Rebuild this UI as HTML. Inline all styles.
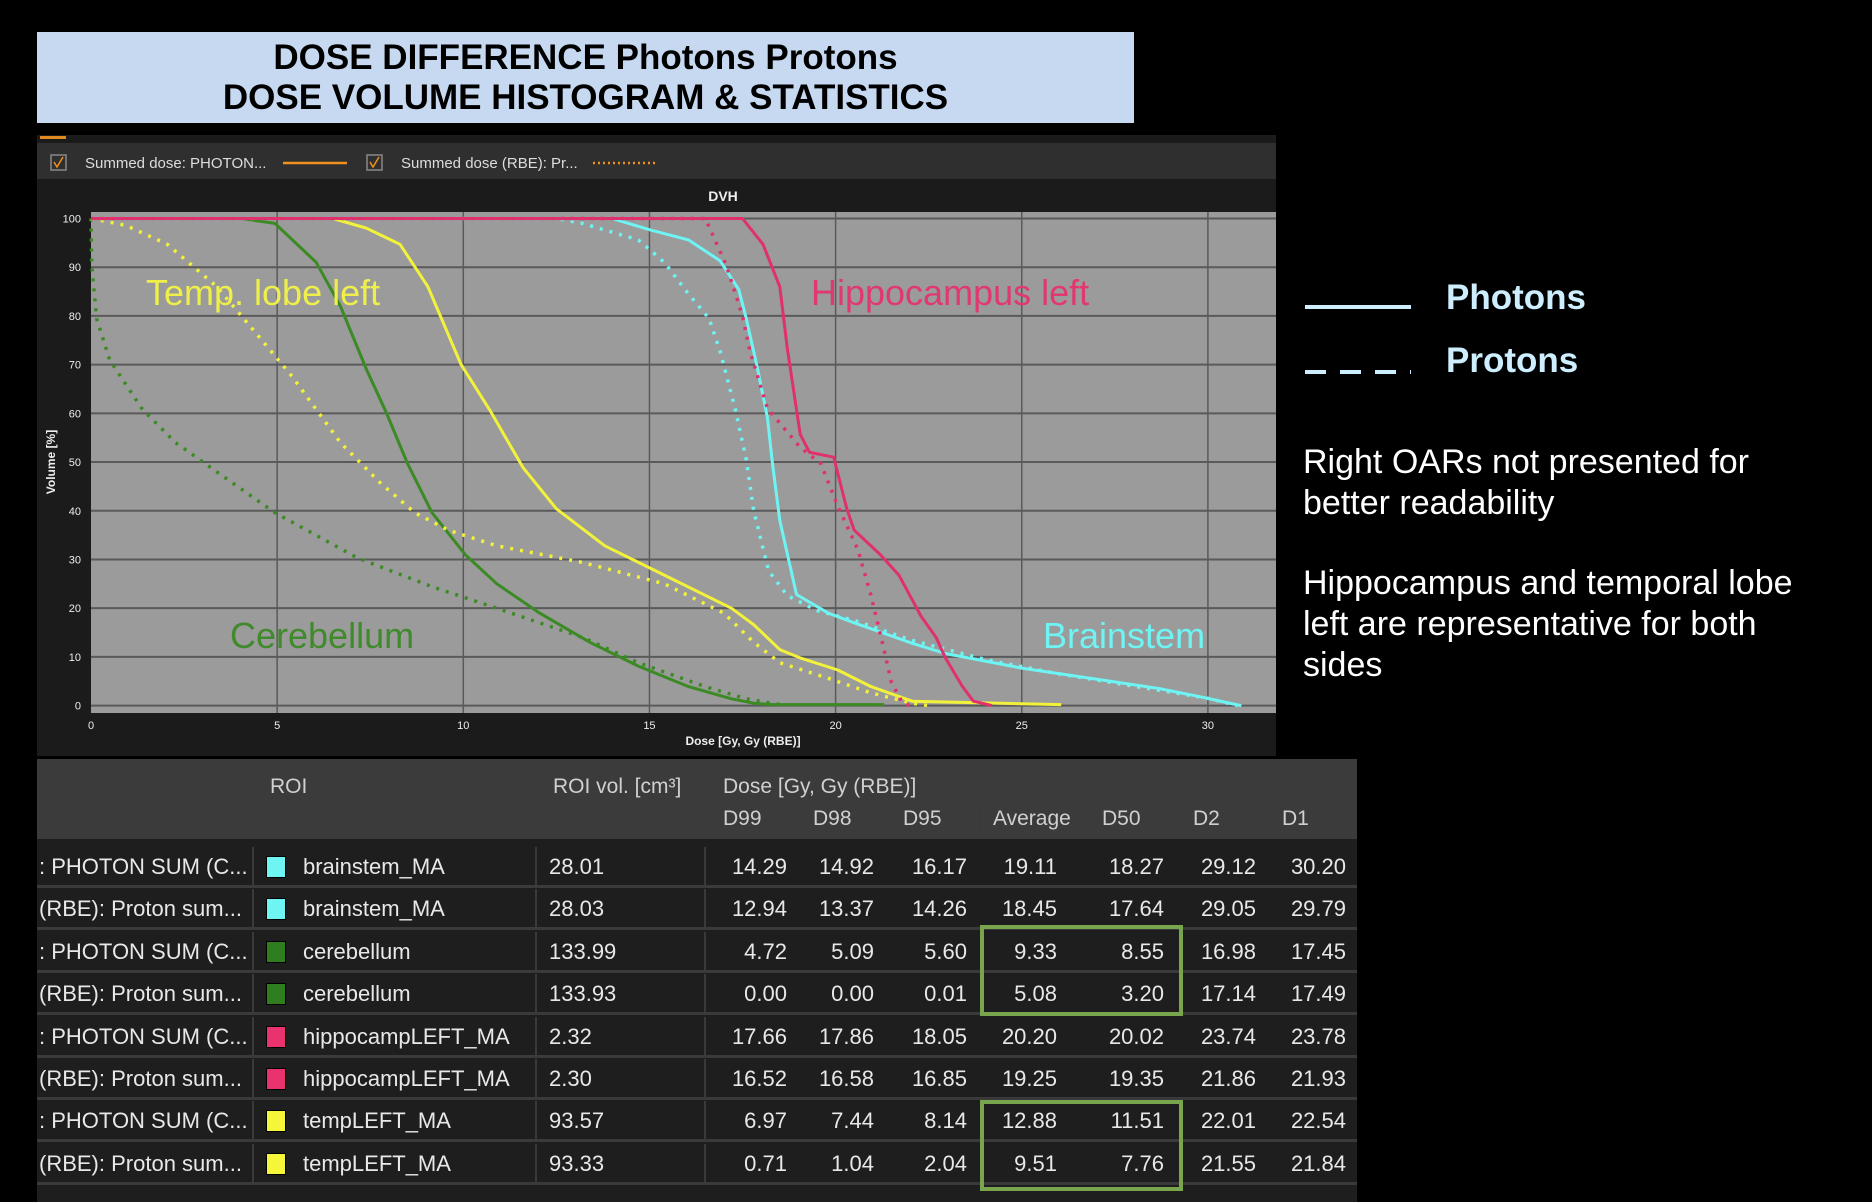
<!DOCTYPE html>
<html><head><meta charset="utf-8">
<style>
body{margin:0;background:#000;width:1872px;height:1202px;overflow:hidden;position:relative;font-family:"Liberation Sans",sans-serif;}
.abs{position:absolute;}
#title{left:37px;top:32px;width:1097px;height:91px;background:#c6d9f1;color:#000;font-weight:bold;font-size:35px;text-align:center;line-height:40px;padding-top:6px;box-sizing:border-box;}
#panel{left:37px;top:135px;width:1239px;height:621px;background:#1b1b1b;}
.note{color:#fff;font-size:34px;line-height:41px;left:1303px;width:520px;}
.leg{color:#cdeefe;font-weight:bold;font-size:35px;left:1446px;}
#table{left:37px;top:759px;width:1320px;height:443px;background:#1e1e1e;}
.cell{position:absolute;color:#e8e8e8;font-size:22px;white-space:nowrap;}
.hdr{color:#d0d0d0;font-size:21px;}
.sep{position:absolute;background:#3a3a3a;}
.sw{position:absolute;width:18px;height:20px;border:1px solid #000;}
.gbox{position:absolute;border:4px solid #79a64d;box-sizing:border-box;}
</style></head><body>
<div id="title" class="abs">DOSE DIFFERENCE Photons Protons<br>DOSE VOLUME HISTOGRAM &amp; STATISTICS</div>

<div id="panel" class="abs">
<svg width="1239" height="621" viewBox="37 135 1239 621" xmlns="http://www.w3.org/2000/svg" id="chart">
<rect x="37" y="143" width="1239" height="36" fill="#2f2f2f"/>
<rect x="40" y="136" width="26" height="3" fill="#e08a20"/>
<g>
<rect x="51" y="155" width="15" height="15" fill="none" stroke="#888" stroke-width="1.5"/>
<path d="M54 162 l3 5 l6 -10" fill="none" stroke="#f0901e" stroke-width="1.5"/>
<text x="85" y="168" fill="#ddd" font-size="15">Summed dose: PHOTON...</text>
<line x1="283" y1="163" x2="347" y2="163" stroke="#f0901e" stroke-width="2.5"/>
</g>
<g>
<rect x="367" y="155" width="15" height="15" fill="none" stroke="#888" stroke-width="1.5"/>
<path d="M370 162 l3 5 l6 -10" fill="none" stroke="#f0901e" stroke-width="1.5"/>
<text x="401" y="168" fill="#ddd" font-size="15">Summed dose (RBE): Pr...</text>
<line x1="593" y1="163" x2="658" y2="163" stroke="#f0901e" stroke-width="2.5" stroke-dasharray="2 3"/>
</g>
<text x="723" y="201" fill="#eee" font-size="14" font-weight="bold" text-anchor="middle">DVH</text>
<rect x="91" y="212" width="1185" height="501" fill="#9b9b9b"/>
<g id="grid"></g>
<g id="ticks"></g>
<g id="series"></g>
<text x="743" y="745" fill="#eee" font-size="12" font-weight="bold" text-anchor="middle">Dose [Gy, Gy (RBE)]</text>
<text transform="translate(55 462) rotate(-90)" fill="#eee" font-size="12" font-weight="bold" text-anchor="middle">Volume [%]</text>
<g font-size="36">
<text x="146" y="305" fill="#efef4a">Temp. lobe left</text>
<text x="811" y="305" fill="#e0386f">Hippocampus left</text>
<text x="230" y="648" fill="#3f8a2a">Cerebellum</text>
<text x="1043" y="648" fill="#6ff4f4">Brainstem</text>
</g>
</svg>
</div>

<svg class="abs" style="left:1300px;top:290px" width="120" height="100">
<line x1="5" y1="17" x2="111" y2="17" stroke="#cdeefe" stroke-width="4"/>
<line x1="5" y1="82" x2="111" y2="82" stroke="#cdeefe" stroke-width="4" stroke-dasharray="21 14"/>
</svg>
<div class="abs leg" style="top:278px">Photons</div>
<div class="abs leg" style="top:341px">Protons</div>
<div class="abs note" style="top:442px">Right OARs not presented for<br>better readability</div>
<div class="abs note" style="top:563px">Hippocampus and temporal lobe<br>left are representative for both<br>sides</div>

<div id="table" class="abs">
<div style="position:absolute;left:0;top:0;width:1320px;height:80px;background:#3b3b3b"></div>
<div id="tb"></div>
</div>

<script>
// ---- chart data ----
const xTicks=[0,5,10,15,20,25,30];
const yTicks=[0,10,20,30,40,50,60,70,80,90,100];
const brainPhotonX=[0,14,15,16.05,16.9,17.4,17.6,17.9,18.17,18.3,18.5,18.95,19.8,20.5,22.06,22.95,25,26.5,28.7,29.8,30.7,30.9];
const brainPhotonY=[100,100,97.7,95.6,91.3,85.4,79.5,69.3,59,50,38,22.8,19,17,12.8,10.7,7.7,6,3.5,1.8,0.3,0];
const brainProtonX=[0,12.5,13.2,14.7,15.4,16,16.6,16.9,17.3,17.6,17.8,18.2,18.7,19.5,20.5,22,24,26,28,30,30.8];
const brainProtonY=[100,100,99,95.6,91,85,79.5,72.7,61,50.6,40,27.7,22.6,19.5,17.5,13.5,9.5,6.5,4,1.5,0];
const hippoPhotonX=[0,17.5,18.05,18.5,18.7,19.05,19.3,19.95,20.3,20.5,21.2,21.7,22.3,22.7,22.95,23.4,23.7,24.2];
const hippoPhotonY=[100,100,94.7,86,73.5,55.7,52,51,40.4,36,31,26.8,18.3,14,9.8,4,0.9,0];
const hippoProtonX=[0,16.5,17.06,17.5,17.7,18.17,19.05,19.6,20.06,20.6,20.95,21.3,21.5,21.8,22];
const hippoProtonY=[100,100,90.5,80,72.7,61,53,49.7,41,32,22.6,11.5,4.8,0.5,0];
const tempPhotonX=[0,6.5,7.4,8.3,9.05,9.94,10.7,11.6,12.5,13.8,15.4,17.2,17.8,18.5,19.05,20.06,20.95,22.06,26.06];
const tempPhotonY=[100,100,98,94.7,86,70,60.8,48.9,40.4,32.8,26.8,20,16.6,11.5,9.8,7.3,3.9,0.9,0.2];
const tempProtonX=[0,0.93,2.05,3.38,4.7,5.4,6.05,6.7,7.8,8.7,9.6,10.9,13.2,15.4,17,17.8,18.5,19.8,20.95,22.06,22.5];
const tempProtonY=[100,98.6,94.7,86,74,67.6,60.8,54,45.5,39.6,36,32.8,29.4,25,19,13,8.8,5.6,2.6,0.5,0];
const cerePhotonX=[0,4.05,4.94,6.05,6.7,7.4,7.94,8.5,9.16,10.05,10.9,12.05,13.4,14.7,16.05,17.2,17.8,18.3,21.3];
const cerePhotonY=[100,100,99,91,82,69,60,49.7,39.6,31,25,19,13,8.1,3.9,1.4,0.5,0.2,0.2];
const cereProtonX=[0,0.02,0.15,0.5,1.38,2.27,3.38,4.94,7.16,9.16,10.9,13.2,14.7,16.5,17.6,18.5];
const cereProtonY=[100,90.5,79.5,71,60.8,54,48,39.6,30.3,24.4,20,14,8.8,3.9,1.4,0.2];

const X0=91,XPER=37.23,Y0=705.6,YPER=4.871;
function xs(v){return X0+v*XPER;}
function ys(v){return Y0-v*YPER;}
const NS="http://www.w3.org/2000/svg";
function mk(tag,attrs,parent){const e=document.createElementNS(NS,tag);for(const k in attrs)e.setAttribute(k,attrs[k]);parent.appendChild(e);return e;}
const grid=document.getElementById('grid'),ticks=document.getElementById('ticks'),ser=document.getElementById('series');
yTicks.forEach(t=>{
  const l=mk('line',{x1:91,x2:1276,y1:ys(t),y2:ys(t),stroke:'#5a5a5a','stroke-width':2},grid);
  
  
  const tx=mk('text',{x:81,y:ys(t)+4,fill:'#eee','font-size':11,'text-anchor':'end'},ticks);
  tx.textContent=t;
  
  
});
xTicks.forEach(t=>{
  if(t>0){const l=mk('line',{x1:xs(t),x2:xs(t),y1:212,y2:713,stroke:'#5a5a5a','stroke-width':1.5},grid);
  
  }
  const tx=mk('text',{x:xs(t),y:729,fill:'#eee','font-size':11,'text-anchor':'middle'},ticks);
  tx.textContent=t;
  
  
});
function draw(xa,ya,col,dotted,name){
  const pts=xa.map((x,i)=>xs(x).toFixed(1)+','+ys(ya[i]).toFixed(1)).join(' ');
  const a={points:pts,fill:'none',stroke:col,'stroke-width':dotted?3.5:3,'stroke-linejoin':'round'};
  if(dotted)a['stroke-dasharray']='3 7';
  const p=mk('polyline',a,ser);
  
  
}
const CY='#6ff4f4',PK='#e0306e',YL='#f2f23a',GR='#3b8a24';
draw(cereProtonX,cereProtonY,GR,true,'cerebellum-proton-line');
draw(cerePhotonX,cerePhotonY,GR,false,'cerebellum-photon-line');
draw(tempProtonX,tempProtonY,YL,true,'temp-lobe-proton-line');
draw(tempPhotonX,tempPhotonY,YL,false,'temp-lobe-photon-line');
draw(brainProtonX,brainProtonY,CY,true,'brainstem-proton-line');
draw(brainPhotonX,brainPhotonY,CY,false,'brainstem-photon-line');
draw(hippoPhotonX,hippoPhotonY,PK,false,'hippocampus-photon-line');
draw(hippoProtonX,hippoProtonY,PK,true,'hippocampus-proton-line');

// ---- table ----
const rowDose=[': PHOTON SUM (C...','(RBE): Proton sum...'];
const rowRoi=['brainstem_MA','brainstem_MA','cerebellum','cerebellum','hippocampLEFT_MA','hippocampLEFT_MA','tempLEFT_MA','tempLEFT_MA'];
const rowCol=['#6ff4f4','#6ff4f4','#2e7d1e','#2e7d1e','#e8336e','#e8336e','#f5f53a','#f5f53a'];
const rowVol=['28.01','28.03','133.99','133.93','2.32','2.30','93.57','93.33'];
const vals=[
['14.29','14.92','16.17','19.11','18.27','29.12','30.20'],
['12.94','13.37','14.26','18.45','17.64','29.05','29.79'],
['4.72','5.09','5.60','9.33','8.55','16.98','17.45'],
['0.00','0.00','0.01','5.08','3.20','17.14','17.49'],
['17.66','17.86','18.05','20.20','20.02','23.74','23.78'],
['16.52','16.58','16.85','19.25','19.35','21.86','21.93'],
['6.97','7.44','8.14','12.88','11.51','22.01','22.54'],
['0.71','1.04','2.04','9.51','7.76','21.55','21.84']];
const tb=document.getElementById('tb');
function cell(txt,l,t,cls,name,align){const d=document.createElement('div');d.className='cell '+(cls||'');d.textContent=txt;d.style.top=t+'px';
 if(align==='r'){d.style.right=(1320-l)+'px';}else d.style.left=l+'px';
 
 
 tb.appendChild(d);return d;}
function sep(l,t,w,h){const d=document.createElement('div');d.className='sep';d.style.left=l+'px';d.style.top=t+'px';d.style.width=w+'px';d.style.height=h+'px';tb.appendChild(d);}
cell('ROI',233,16,'hdr','header-roi');
cell('ROI vol. [cm³]',516,16,'hdr','header-roi-vol');
cell('Dose [Gy, Gy (RBE)]',686,16,'hdr','header-dose');
const sub=['D99','D98','D95','Average','D50','D2','D1'];
const subX=[686,776,866,956,1065,1156,1245];
sub.forEach((s,i)=>cell(s,subX[i],48,'hdr','header-'+s.toLowerCase()));
[215,498,667].forEach(x=>sep(x,10,2,66));
[765,852,942,1049,1139,1231].forEach(x=>sep(x,42,2,34));
const valR=[750,837,930,1020,1127,1219,1309];
for(let r=0;r<8;r++){
  const top=88+r*42.4;
  sep(0,top+38,1320,3);
  [215,498,667].forEach(x=>sep(x,top,2,38));
  cell(rowDose[r%2],2,top+7,'','row-dose-name');
  const s=document.createElement('div');s.className='sw';s.style.left='229px';s.style.top=(top+9)+'px';s.style.background=rowCol[r];
  
  
  tb.appendChild(s);
  cell(rowRoi[r],266,top+7,'','row-roi-name');
  cell(rowVol[r],512,top+7,'','row-roi-volume');
  vals[r].forEach((v,i)=>cell(v,valR[i],top+7,'','row-value','r'));
}
[[166],[341]].forEach(([t])=>{const b=document.createElement('div');b.className='gbox';b.style.left='943px';b.style.top=t+'px';b.style.width='203px';b.style.height='91px';
 
 
 tb.appendChild(b);});
</script>
</body></html>
